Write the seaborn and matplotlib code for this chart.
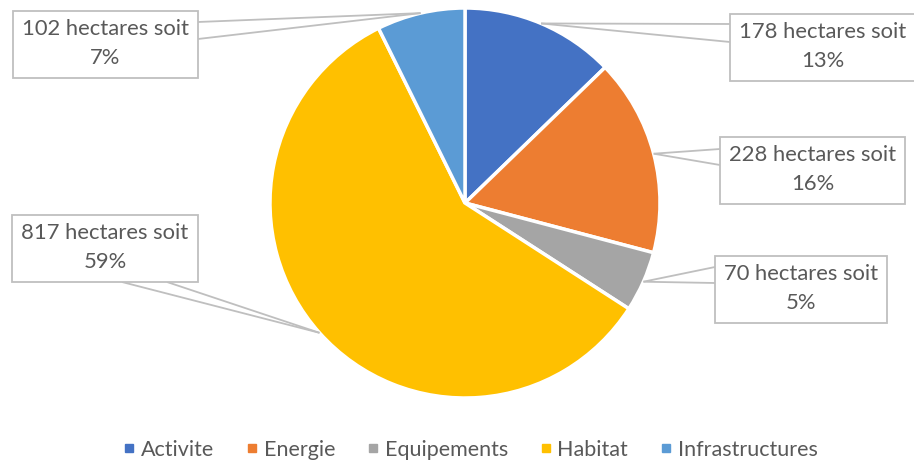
import numpy as np
import matplotlib
matplotlib.use("Agg")
import matplotlib.pyplot as plt
from matplotlib.lines import Line2D
from matplotlib.patches import Rectangle
import seaborn as sns

# Surfaces consommées par destination (hectares)
categories = ["Activite", "Energie", "Equipements", "Habitat", "Infrastructures"]
hectares = [178, 228, 70, 817, 102]
colors = ["#4472C4", "#ED7D31", "#A5A5A5", "#FFC000", "#5B9BD5"]

sns.set_theme(style="white")
plt.rcParams["font.family"] = ["Lato", "DejaVu Sans"]

W, H = 914, 461
fig = plt.figure(figsize=(W / 100, H / 100), dpi=100)
ax = fig.add_axes([0, 0, 1, 1])

palette = sns.color_palette(colors)
cx, cy, r = 465, H - 203, 195
wedges, _ = ax.pie(hectares, colors=palette, startangle=90, counterclock=False,
                   center=(cx, cy), radius=r,
                   wedgeprops=dict(edgecolor="white", linewidth=2.5))
ax.set_xlim(0, W)
ax.set_ylim(0, H)
ax.set_aspect("equal")
ax.axis("off")

# Callout boxes (pixel layout, top-left origin): x0, y0, x1, y1
boxes = [
    (730, 14, 916, 81),
    (720, 137, 905, 204),
    (715, 256, 887, 323),
    (12, 215, 198, 282),
    (13, 11, 198, 78),
]
# Two anchor points on each box where the leader starts
anchors = [
    [(730, 24), (730, 42)],
    [(720, 149), (720, 165)],
    [(715, 267), (715, 283)],
    [(122, 282), (167, 282)],
    [(198, 22), (198, 39)],
]

total = sum(hectares)
line_col = "#BFBFBF"
text_col = "#595959"
for w, v, (x0, y0, x1, y1), anc in zip(wedges, hectares, boxes, anchors):
    mid = np.deg2rad((w.theta1 + w.theta2) / 2)
    px, py = cx + r * np.cos(mid), cy + r * np.sin(mid)
    for ax_, ay_ in anc:
        ax.plot([ax_, px], [H - ay_, py], color=line_col, lw=1.3,
                solid_capstyle="butt", zorder=3)
    ax.add_patch(Rectangle((x0, H - y1), x1 - x0, y1 - y0, facecolor="white",
                           edgecolor=line_col, lw=1.3, zorder=4))
    pct = round(100 * v / total)
    ax.text((x0 + x1) / 2, H - (y0 + y1) / 2 + 1, f"{v} hectares soit\n{pct}%",
            ha="center", va="center", fontsize=15.8, color=text_col,
            linespacing=1.6, zorder=5)

handles = [Line2D([], [], marker="s", linestyle="none", markersize=6,
                  markerfacecolor=c, markeredgecolor=c) for c in palette]
fig.legend(handles, categories, loc="center", bbox_to_anchor=(469 / W, 11 / H),
           ncol=5, frameon=False, fontsize=15.5, handletextpad=0.15,
           columnspacing=1.35, handlelength=0.8, labelcolor=text_col)

fig.savefig("out.png", dpi=100)
